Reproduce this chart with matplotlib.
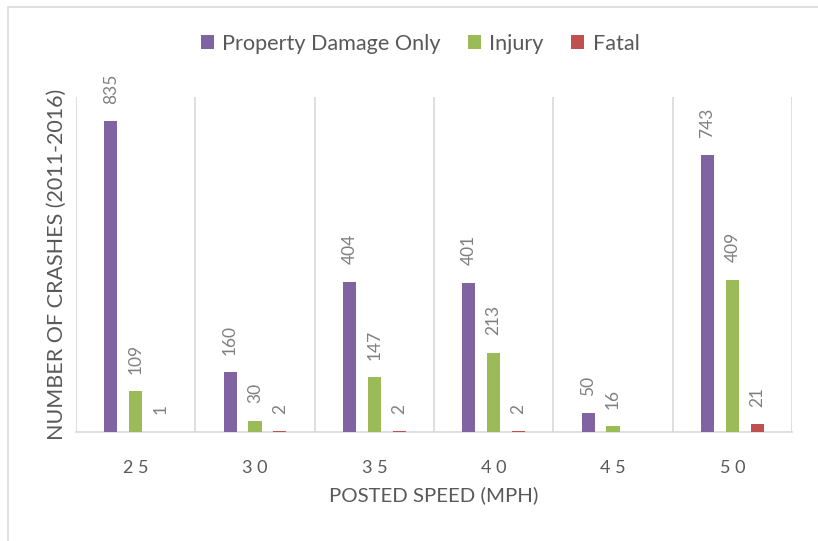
import matplotlib
matplotlib.use("Agg")
import matplotlib.pyplot as plt
import numpy as np
from matplotlib.patches import Rectangle

categories = ['25', '30', '35', '40', '45', '50']
series_names = ['Property Damage Only', 'Injury', 'Fatal']
pdo = [835, 160, 404, 401, 50, 743]
injury = [109, 30, 147, 213, 16, 409]
fatal = [1, 2, 2, 2, None, 21]
colors = ['#8064A2', '#9BBB59', '#C0504D']

plt.rcParams['font.family'] = ['Lato', 'DejaVu Sans']

W, H = 818, 541
fig = plt.figure(figsize=(W / 100, H / 100), dpi=100)
fig.patch.set_facecolor('white')

# outer chart border
fig.add_artist(Rectangle((8 / W, -0.1), 1.2, (H - 7) / H + 0.1, transform=fig.transFigure,
                         fill=False, edgecolor='#d9d9d9', linewidth=1.2))

left, right, top, base = 76, 792, 97, 432
ax = fig.add_axes([left / W, (H - base) / H, (right - left) / W, (base - top) / H])

x = np.arange(len(categories))
width = 0.109
offsets = [-0.209, 0.0, 0.209]
label_color = '#808080'
for vals, off, col, name in zip([pdo, injury, fatal], offsets, colors, series_names):
    v = [0 if a is None else a for a in vals]
    ax.bar(x + off, v, width=width, color=col, label=name, zorder=3, linewidth=0)
    for xi, a in zip(x, vals):
        if a is None:
            continue
        ax.annotate(str(a), (xi + off, a), xytext=(0, 12.5), textcoords='offset points',
                    rotation=90, ha='center', va='bottom', fontsize=12.5, color=label_color)

ax.set_xlim(-0.5, len(categories) - 0.5)
ax.set_ylim(0, 900)
for b in np.arange(-0.5, len(categories), 1.0):
    ax.axvline(b, color='#d9d9d9', linewidth=1.2, zorder=1)
for s in ['top', 'right', 'left']:
    ax.spines[s].set_visible(False)
ax.spines['bottom'].set_color('#d9d9d9')
ax.spines['bottom'].set_linewidth(1.2)
ax.set_yticks([])
ax.set_xticks(x)
ax.set_xticklabels([' '.join(c) for c in categories], fontsize=13, color='#595959')
ax.tick_params(axis='x', length=0, pad=20)

fig.text(434 / W, 1 - 495 / H, 'POSTED SPEED (MPH)', fontsize=14.7, color='#595959',
         ha='center', va='center')
fig.text(57 / W, 1 - 264 / H, 'NUMBER OF CRASHES (2011-2016)', fontsize=15.5, color='#595959',
         ha='center', va='center', rotation=90)

leg = fig.legend(loc='center', bbox_to_anchor=(420 / W, 1 - 44 / H), ncol=3, frameon=False,
                 fontsize=15.6, handlelength=0.6, handleheight=0.6, handletextpad=0.4,
                 columnspacing=1.25, labelcolor='#595959')

fig.savefig('out.png', dpi=100)
